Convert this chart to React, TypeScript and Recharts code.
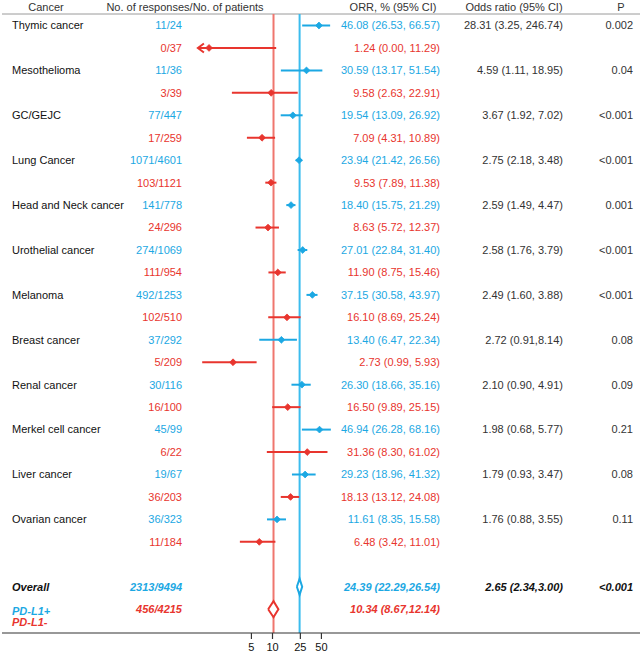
import React from 'react';
import { ComposedChart, XAxis, YAxis, Scatter, ReferenceLine } from 'recharts';

// ---------------- data ----------------
const cancers = ['Thymic cancer', 'Mesothelioma', 'GC/GEJC', 'Lung Cancer', 'Head and Neck cancer', 'Urothelial cancer', 'Melanoma', 'Breast cancer', 'Renal cancer', 'Merkel cell cancer', 'Liver cancer', 'Ovarian cancer'];
const posCounts = ['11/24', '11/36', '77/447', '1071/4601', '141/778', '274/1069', '492/1253', '37/292', '30/116', '45/99', '19/67', '36/323'];
const negCounts = ['0/37', '3/39', '17/259', '103/1121', '24/296', '111/954', '102/510', '5/209', '16/100', '6/22', '36/203', '11/184'];
const posOrr = [46.08, 30.59, 19.54, 23.94, 18.40, 27.01, 37.15, 13.40, 26.30, 46.94, 29.23, 11.61];
const posLow = [26.53, 13.17, 13.09, 21.42, 15.75, 22.84, 30.58, 6.47, 18.66, 26.28, 18.96, 8.35];
const posHigh = [66.57, 51.54, 26.92, 26.56, 21.29, 31.40, 43.97, 22.34, 35.16, 68.16, 41.32, 15.58];
const negOrr = [1.24, 9.58, 7.09, 9.53, 8.63, 11.90, 16.10, 2.73, 16.50, 31.36, 18.13, 6.48];
const negLow = [0.00, 2.63, 4.31, 7.89, 5.72, 8.75, 8.69, 0.99, 9.89, 8.30, 13.12, 3.42];
const negHigh = [11.29, 22.91, 10.89, 11.38, 12.37, 15.46, 25.24, 5.93, 25.15, 61.02, 24.08, 11.01];
const oddsRatios = ['28.31 (3.25, 246.74)', '4.59 (1.11, 18.95)', '3.67 (1.92, 7.02)', '2.75 (2.18, 3.48)', '2.59 (1.49, 4.47)', '2.58 (1.76, 3.79)', '2.49 (1.60, 3.88)', '2.72 (0.91,8.14)', '2.10 (0.90, 4.91)', '1.98 (0.68, 5.77)', '1.79 (0.93, 3.47)', '1.76 (0.88, 3.55)'];
const pValues = ['0.002', '0.04', '<0.001', '<0.001', '0.001', '<0.001', '<0.001', '0.08', '0.09', '0.21', '0.08', '0.11'];

const overallPos = { count: '2313/9494', orr: 24.39, low: 22.29, high: 26.54 };
const overallNeg = { count: '456/4215', orr: 10.34, low: 8.67, high: 12.14 };
const overallOddsRatio = '2.65 (2.34,3.00)';
const overallP = '<0.001';

const headers = ['Cancer', 'No. of responses/No. of patients', 'ORR, % (95% CI)', 'Odds ratio (95% CI)', 'P'];
const legendLabels = ['PD-L1+', 'PD-L1-'];
const xTicks = [5, 10, 25, 50];

// ---------------- style / layout ----------------
const FONT = '"Liberation Sans", Arial, Helvetica, sans-serif';
const BLUE = '#1CA8E3';
const BLUE_LINE = '#3BBCEE';
const RED = '#E8352E';
const RED_LINE = '#EF766E';
const DARK = '#333333';

const W = 644;
const H = 657;
const PLOT_LEFT = 2;
const PLOT_RIGHT = 640;
const X_AT_ONE = 202.5;
const PX_PER_DECADE = 70;
const X_DOMAIN = [
  Math.pow(10, (PLOT_LEFT - X_AT_ONE) / PX_PER_DECADE),
  Math.pow(10, (PLOT_RIGHT - X_AT_ONE) / PX_PER_DECADE),
];
const ROW_STEP = 22.45;
const ROW0_PX = 25.5;
const PLOT_H = 633;
const Y_MIN = -ROW0_PX / ROW_STEP;
const Y_MAX = Y_MIN + PLOT_H / ROW_STEP;
const HEADER_ROW = Y_MIN + 7 / ROW_STEP;
const HEADER_LINE_ROW = Y_MIN + 14 / ROW_STEP;
const OVERALL_POS_ROW = 25;
const OVERALL_NEG_ROW = 26;
const DIAMOND_HALF = 8 / ROW_STEP;
const ARROW_X = 0.86;
const TEXT_X = 1;

const fmt = (v: number) => v.toFixed(2);

type TextRow = {
  x: number; y: number;
  name?: string; count?: string; orr?: string; or?: string; p?: string;
  color?: string; bold?: boolean; header?: boolean;
};

const textRows: TextRow[] = [];
textRows.push({ x: TEXT_X, y: HEADER_ROW, header: true });
cancers.forEach((c, i) => {
  textRows.push({ x: TEXT_X, y: 2 * i, name: c, count: posCounts[i], orr: `${fmt(posOrr[i])} (${fmt(posLow[i])}, ${fmt(posHigh[i])})`, or: oddsRatios[i], p: pValues[i], color: BLUE });
  textRows.push({ x: TEXT_X, y: 2 * i + 1, count: negCounts[i], orr: `${fmt(negOrr[i])} (${fmt(negLow[i])}, ${fmt(negHigh[i])})`, color: RED });
});
textRows.push({ x: TEXT_X, y: OVERALL_POS_ROW, name: 'Overall', count: overallPos.count, orr: `${fmt(overallPos.orr)} (${fmt(overallPos.low)},${fmt(overallPos.high)})`, or: overallOddsRatio, p: overallP, color: BLUE, bold: true });
textRows.push({ x: TEXT_X, y: OVERALL_NEG_ROW, count: overallNeg.count, orr: `${fmt(overallNeg.orr)} (${fmt(overallNeg.low)},${fmt(overallNeg.high)})`, color: RED, bold: true });

const TextShape = (props: any) => {
  const { cy, payload } = props;
  const fs = 11;
  const common = { fontFamily: FONT, fontSize: fs, dy: '0.35em' } as any;
  if (payload.header) {
    return (
      <g>
        <text {...common} x={46} y={cy} textAnchor="middle" fill={DARK}>{headers[0]}</text>
        <text {...common} x={185} y={cy} textAnchor="middle" fill={DARK}>{headers[1]}</text>
        <text {...common} x={393} y={cy} textAnchor="middle" fill={DARK}>{headers[2]}</text>
        <text {...common} x={514} y={cy} textAnchor="middle" fill={DARK}>{headers[3]}</text>
        <text {...common} x={621} y={cy} textAnchor="middle" fill={DARK}>{headers[4]}</text>
      </g>
    );
  }
  const b = payload.bold ? { fontWeight: 'bold', fontStyle: 'italic' } : {};
  return (
    <g>
      {payload.name && <text {...common} {...b} x={12} y={cy} textAnchor="start" fill="#111">{payload.name}</text>}
      {payload.count && <text {...common} {...b} x={182} y={cy} textAnchor="end" fill={payload.color}>{payload.count}</text>}
      {payload.orr && <text {...common} {...b} x={440} y={cy} textAnchor="end" fill={payload.color}>{payload.orr}</text>}
      {payload.or && <text {...common} {...b} x={563} y={cy} textAnchor="end" fill={payload.bold ? '#111' : DARK}>{payload.or}</text>}
      {payload.p && <text {...common} {...b} x={633} y={cy} textAnchor="end" fill={payload.bold ? '#111' : DARK}>{payload.p}</text>}
    </g>
  );
};

const makeDiamond = (color: string) => (props: any) => {
  const { cx, cy } = props;
  const s = 3.4;
  return <path d={`M${cx - s},${cy}L${cx},${cy - s}L${cx + s},${cy}L${cx},${cy + s}Z`} fill={color} stroke={color} strokeWidth={0.8} />;
};

const ArrowShape = (props: any) => {
  const { cx, cy } = props;
  return <path d={`M${cx + 6},${cy - 4.5}L${cx},${cy}L${cx + 6},${cy + 4.5}`} fill="none" stroke={RED} strokeWidth={2} />;
};

const NoShape = () => <g />;

const posPoints = posOrr.map((v, i) => ({ x: v, y: 2 * i }));
const negPoints = negOrr.map((v, i) => ({ x: v, y: 2 * i + 1 }));
const arrowPoints = negLow.map((v, i) => ({ v, i })).filter((d) => d.v <= 0).map((d) => ({ x: ARROW_X, y: 2 * d.i + 1 }));

const diamondPath = (o: { orr: number; low: number; high: number }, row: number) => [
  { x: o.low, y: row },
  { x: o.orr, y: row - DIAMOND_HALF },
  { x: o.high, y: row },
  { x: o.orr, y: row + DIAMOND_HALF },
  { x: o.low, y: row },
];

export default function App() {
  const ciSegments: { lo: number; hi: number; y: number; color: string }[] = [];
  cancers.forEach((_, i) => {
    ciSegments.push({ lo: posLow[i], hi: posHigh[i], y: 2 * i, color: BLUE });
    ciSegments.push({ lo: negLow[i] > 0 ? negLow[i] : ARROW_X, hi: negHigh[i], y: 2 * i + 1, color: RED });
  });

  return (
    <div style={{ position: 'absolute', left: 0, top: 0, width: W, height: H, background: '#fff', fontFamily: FONT }}>
      <ComposedChart width={W} height={H} margin={{ top: 0, right: W - PLOT_RIGHT, bottom: 0, left: PLOT_LEFT }}>
        <XAxis
          type="number"
          dataKey="x"
          scale="log"
          domain={X_DOMAIN}
          allowDataOverflow
          ticks={xTicks}
          interval={0}
          height={H - PLOT_H}
          tickSize={6}
          tickMargin={4}
          axisLine={{ stroke: DARK, strokeWidth: 1.2 }}
          tickLine={{ stroke: DARK, strokeWidth: 1.2 }}
          tick={{ fill: '#111', fontSize: 11, fontFamily: FONT }}
        />
        <YAxis type="number" dataKey="y" hide reversed domain={[Y_MIN, Y_MAX]} allowDataOverflow />
        <ReferenceLine y={HEADER_LINE_ROW} stroke="#9a9a9a" strokeWidth={1} />
        <ReferenceLine segment={[{ x: overallNeg.orr, y: HEADER_LINE_ROW }, { x: overallNeg.orr, y: Y_MAX }]} stroke={RED_LINE} strokeWidth={2} />
        <ReferenceLine segment={[{ x: overallPos.orr, y: HEADER_LINE_ROW }, { x: overallPos.orr, y: Y_MAX }]} stroke={BLUE_LINE} strokeWidth={2} />
        {ciSegments.map((s, k) => (
          <ReferenceLine key={k} segment={[{ x: s.lo, y: s.y }, { x: s.hi, y: s.y }]} stroke={s.color} strokeWidth={2} />
        ))}
        <Scatter data={posPoints} shape={makeDiamond(BLUE)} isAnimationActive={false} />
        <Scatter data={negPoints} shape={makeDiamond(RED)} isAnimationActive={false} />
        <Scatter data={arrowPoints} shape={ArrowShape} isAnimationActive={false} />
        <Scatter
          data={diamondPath(overallPos, OVERALL_POS_ROW)}
          shape={NoShape}
          line={{ stroke: BLUE, strokeWidth: 2, fill: '#fff' }}
          lineType="joint"
          isAnimationActive={false}
        />
        <Scatter
          data={diamondPath(overallNeg, OVERALL_NEG_ROW)}
          shape={NoShape}
          line={{ stroke: RED, strokeWidth: 2, fill: '#fff' }}
          lineType="joint"
          isAnimationActive={false}
        />
        <Scatter data={textRows} shape={TextShape} isAnimationActive={false} />
      </ComposedChart>
      <div style={{ position: 'absolute', left: 12, top: 606, fontSize: 11, lineHeight: '11px', fontWeight: 'bold', fontStyle: 'italic', fontFamily: FONT }}>
        <div style={{ color: BLUE }}>{legendLabels[0]}</div>
        <div style={{ color: RED }}>{legendLabels[1]}</div>
      </div>
    </div>
  );
}
